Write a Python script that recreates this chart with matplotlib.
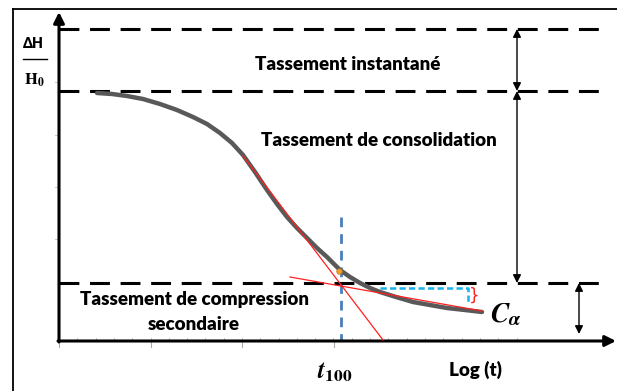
import matplotlib
matplotlib.use("Agg")
import matplotlib.pyplot as plt
import numpy as np

plt.rcParams['mathtext.fontset'] = 'stix'

# figure works in pixel coordinates of the 617x391 picture (y downwards)
W, H = 617, 391

# settlement curve (grey)
curve_x = [97, 112, 127, 143, 160, 177, 193, 207, 220, 232, 243, 255, 267, 277,
           287, 297, 307, 317, 327, 334, 340, 350, 360, 370, 380, 396, 413, 430,
           447, 465, 482]
curve_y = [93, 94, 96, 99, 104, 110, 117, 124, 133, 143, 155, 172, 190, 204,
           217, 228, 238, 248, 257, 264, 270, 277, 283, 288, 292, 297, 302, 305,
           308, 310, 312]

# horizontal reference levels (initial, end instantaneous, end consolidation)
levels = [29, 91, 283]
axis_x0, axis_y0 = 59, 341

# tangents (red)
tan1_x = [243, 383]
tan1_y = [156, 340]
tan2_x = [290, 482]
tan2_y = [277, 311]

# t100 marker
t100_x = 341
t100_pt = (339, 271)

# C_alpha bracket (cyan)
br_x = [380, 468, 468]
br_y = [288, 288, 304]

# ticks
major_ticks = [59, 151, 242, 334]
minor_ticks = np.arange(59, 520, 18.3)
ytick_pos = [82, 135, 187, 239]

fig = plt.figure(figsize=(W / 100, H / 100), dpi=100)
ax = fig.add_axes([0, 0, 1, 1])
ax.set_xlim(0, W)
ax.set_ylim(H, 0)
ax.axis('off')

# outer frame (left and top)
ax.plot([13, 13], [9, H], color='black', lw=1.3)
ax.plot([13, W], [9, 9], color='black', lw=1.3)

# dashed levels
for y in levels:
    ax.plot([axis_x0, 599], [y, y], color='black', lw=2.2,
            linestyle=(0, (6.5, 3.5)), zorder=3)

# ticks
for x in major_ticks:
    ax.plot([x, x], [axis_y0, axis_y0 + 6], color='#aaaaaa', lw=0.8)
for x in minor_ticks:
    ax.plot([x, x], [axis_y0 - 3, axis_y0], color='#bbbbbb', lw=0.6)
for y in ytick_pos:
    ax.plot([axis_x0 - 4, axis_x0], [y, y], color='#bbbbbb', lw=0.6)

# axes with arrows
ax.annotate('', xy=(axis_x0, 12), xytext=(axis_x0, axis_y0 + 1),
            arrowprops=dict(arrowstyle='-|>', lw=2.2, color='black',
                            mutation_scale=16, shrinkA=0, shrinkB=0))
ax.annotate('', xy=(616, axis_y0), xytext=(axis_x0 - 1, axis_y0),
            arrowprops=dict(arrowstyle='-|>', lw=2.2, color='black',
                            mutation_scale=16, shrinkA=0, shrinkB=0))

# double arrows on the right
arrow_kw = dict(arrowstyle='<|-|>', lw=1.0, color='black',
                mutation_scale=12, shrinkA=0, shrinkB=0)
ax.annotate('', xy=(517, levels[0]), xytext=(517, levels[1]), arrowprops=arrow_kw)
ax.annotate('', xy=(517, levels[1]), xytext=(517, levels[2]), arrowprops=arrow_kw)
ax.annotate('', xy=(579, levels[2]), xytext=(579, 334), arrowprops=arrow_kw)

# curve and construction
ax.plot(curve_x, curve_y, color='#595959', lw=3.2, solid_capstyle='round',
        solid_joinstyle='round', zorder=4)
ax.plot(tan1_x, tan1_y, color='#ff2020', lw=0.9, zorder=5)
ax.plot(tan2_x, tan2_y, color='#ff2020', lw=0.9, zorder=5)
ax.plot([t100_x, t100_x], [217, 340], color='#4a7ebb', lw=2.0,
        linestyle=(0, (3.5, 2.5)), zorder=2)
ax.plot(*t100_pt, 'o', color='#f0a030', ms=4, mec='#c07010', mew=0.5, zorder=6)
ax.plot(br_x, br_y, color='#1ab0ee', lw=1.8, linestyle=(0, (2.5, 1.3)), zorder=3)
ax.text(474, 296, '}', color='#ff2020', fontsize=12, ha='center', va='center',
        family='DejaVu Sans')

# texts
bold = dict(family='Lato', fontweight='heavy', color='black',
            ha='center', va='center')
ax.text(348, 64, 'Tassement instantané', fontsize=13.5, **bold)
ax.text(379, 140, 'Tassement de consolidation', fontsize=13.5, **bold)
ax.text(195, 299, 'Tassement de compression', fontsize=13.5, **bold)
ax.text(194, 325, 'secondaire', fontsize=13.5, **bold)
ax.text(33, 43, 'ΔH', fontsize=10, **bold)
ax.plot([23, 47], [59, 59], color='black', lw=1.0)
ax.text(34, 80, r'$\mathbf{H_0}$', fontsize=12, ha='center', va='center')
ax.text(475, 370, 'Log (t)', fontsize=13.5, **bold)
ax.text(335, 372, r'$\boldsymbol{t}_{\mathbf{100}}$', fontsize=18,
        ha='center', va='center')
ax.text(506, 314, r'$\boldsymbol{C}_{\boldsymbol{\alpha}}$', fontsize=20,
        ha='center', va='center')

fig.savefig('out.png', dpi=100)
